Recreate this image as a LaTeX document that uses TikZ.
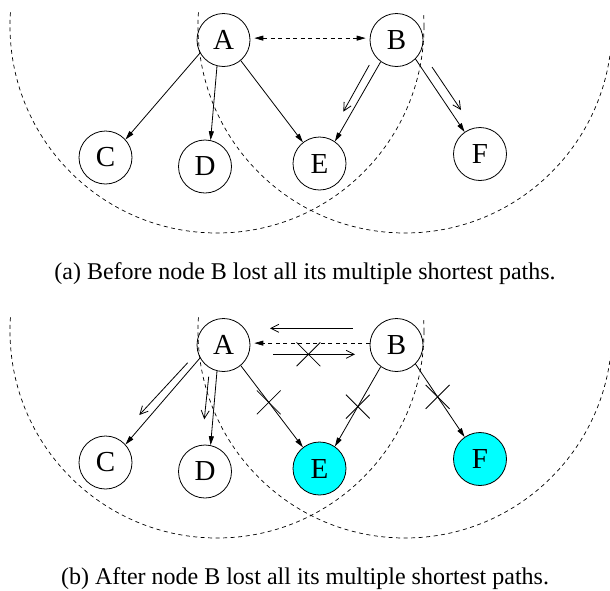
\documentclass[tikz,border=0pt]{standalone}
\usepackage{fontspec}
\setmainfont{Liberation Serif}
\usetikzlibrary{arrows.meta,shapes.misc}
\definecolor{lostcyan}{RGB}{0,255,255}
\begin{document}
\begin{tikzpicture}[x=1pt,y=-1pt,
  vtx/.style={circle,draw,line width=0.8pt,minimum size=53pt,inner sep=0pt,
    font=\fontsize{29}{29}\selectfont},
  hit/.style={vtx,fill=lostcyan},
  edge/.style={line width=0.8pt,-{Triangle[length=9pt,width=5pt]}},
  msg/.style={line width=0.8pt,-{Straight Barb[length=8pt,width=8pt]}},
  ring/.style={dashed,dash pattern=on 4pt off 3.5pt,line width=0.7pt},
  xmark/.style={draw,cross out,line width=0.8pt,minimum size=23pt,inner sep=0pt},
  caption/.style={anchor=base,font=\fontsize{24}{24}\selectfont}]
\useasboundingbox (0,0) rectangle (610,590);

% ---------- (a) ----------
\begin{scope}
  \begin{scope}
    \clip (0,12) rectangle (610,300);
    \draw[ring] (217,26) circle[radius=207];
    \draw[ring] (405,26) circle[radius=207];
  \end{scope}
  \node[vtx] (aA) at (223.5,40) {A};
  \node[vtx] (aB) at (396.5,40) {B};
  \node[vtx] (aC) at (105.5,157.5) {C};
  \node[vtx] (aD) at (205,166.5) {D};
  \node[vtx] (aE) at (319.5,163.5) {E};
  \node[vtx] (aF) at (480,154) {F};

  \draw[ring,{Triangle[length=9pt,width=5pt]}-{Triangle[length=9pt,width=5pt]},
        shorten <=4pt,shorten >=4pt] (aA.4) -- (aB.176);
  \draw[edge] (aA.209) -- (aC.42);
  \draw[edge] (aA.256) -- (aD.78);
  \draw[edge] (aA.310) -- (aE.128);
  \draw[edge] (aB.234) -- (aE.55);
  \draw[edge] (aB.315) -- (aF.125);

  \coordinate (am1s) at (369.3,65);
  \coordinate (am1e) at (343.3,111.7);
  \coordinate (am2s) at (432,67);
  \coordinate (am2e) at (461,110);
  \draw[msg] (am1s) -- (am1e);
  \draw[msg] (am2s) -- (am2e);

  \node[caption] (capa) at (305,279) {(a) Before node B lost all its multiple shortest paths.};
\end{scope}

% ---------- (b) ----------
\begin{scope}[shift={(0,305)}]
  \begin{scope}
    \clip (0,12) rectangle (610,285);
    \draw[ring] (217,26) circle[radius=207];
    \draw[ring] (405,26) circle[radius=207];
  \end{scope}
  \node[vtx] (bA) at (223.5,40) {A};
  \node[vtx] (bB) at (396.5,40) {B};
  \node[vtx] (bC) at (105.5,157.5) {C};
  \node[vtx] (bD) at (205,166.5) {D};
  \node[hit] (bE) at (319.5,163.5) {E};
  \node[hit] (bF) at (480,154) {F};

  \draw[ring,-{Triangle[length=9pt,width=5pt]},shorten >=4pt] (bB.176) -- (bA.4);
  \draw[edge] (bA.209) -- (bC.42);
  \draw[edge] (bA.256) -- (bD.78);
  \draw[edge] (bA.310) -- node[xmark,pos=0.45]{} (bE.128);
  \draw[edge] (bB.234) -- node[xmark,pos=0.5]{} (bE.55);
  \draw[edge] (bB.315) -- node[xmark,pos=0.45]{} (bF.125);

  \coordinate (bm1s) at (187.7,57.7);
  \coordinate (bm1e) at (139.3,110);
  \coordinate (bm2s) at (208.7,71.7);
  \coordinate (bm2e) at (204.3,114.3);
  \coordinate (bm3s) at (352.7,23.3);
  \coordinate (bm3e) at (270,23.3);
  \coordinate (bm4s) at (273.3,49.3);
  \coordinate (bm4e) at (355,49.3);
  \draw[msg] (bm1s) -- (bm1e);
  \draw[msg] (bm2s) -- (bm2e);
  \draw[msg] (bm3s) -- (bm3e);
  \draw[msg] (bm4s) -- node[xmark,pos=0.43]{} (bm4e);

  \node[caption] (capb) at (305,279) {(b) After node B lost all its multiple shortest paths.};
\end{scope}
\end{tikzpicture}
\end{document}
